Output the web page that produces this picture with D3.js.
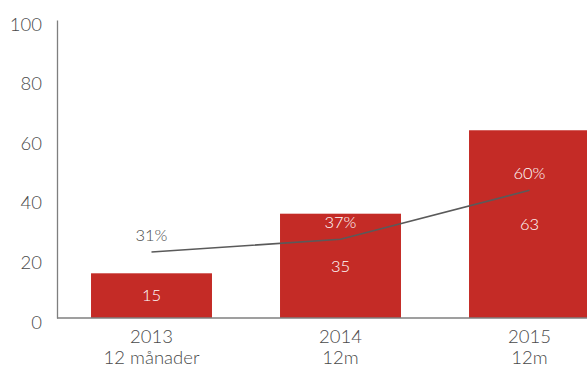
<!DOCTYPE html>
<html>
<head>
<meta charset="utf-8">
<script src="https://cdn.jsdelivr.net/npm/d3@7"></script>
<style>
  html, body { margin: 0; padding: 0; background: #fff; }
  svg { display: block; font-family: Lato, "Open Sans", sans-serif; font-weight: 300; }
</style>
</head>
<body>
<svg id="chart" width="587" height="367"></svg>
<script>
// Yearly volume (bars) and share (line, secondary scale)
const years = ["2013", "2014", "2015"];
const periods = ["12 månader", "12m", "12m"];
const volumes = [15, 35, 63];
const shares = [0.31, 0.37, 0.60];
const yTicks = [0, 20, 40, 60, 80, 100];

const svg = d3.select("#chart");
const plotLeft = 57, plotTop = 20, plotBottom = 318;
const barColor = "#c42b26";
const textGray = "#4a4a4a";

const x = d3.scaleBand().domain(years).range([plotLeft, 624]).paddingInner(0.36).paddingOuter(0.18);
const y = d3.scaleLinear().domain([0, 100]).range([plotBottom, plotTop]);
const y2 = d3.scaleLinear().domain([0, 1.4]).range([plotBottom, plotTop]);

// Bars
svg.append("g").selectAll("rect").data(volumes).join("rect")
  .attr("x", (d, i) => x(years[i]))
  .attr("y", d => y(d))
  .attr("width", x.bandwidth())
  .attr("height", d => y(0) - y(d))
  .attr("fill", barColor);

// Value labels inside bars
svg.append("g").selectAll("text").data(volumes).join("text")
  .attr("x", (d, i) => x(years[i]) + x.bandwidth() / 2)
  .attr("y", d => (y(d) + y(0)) / 2)
  .attr("dy", "0.35em")
  .attr("text-anchor", "middle")
  .attr("fill", "#fff")
  .attr("font-size", 16.5)
  .text(d => d);

// Y axis
const yAxis = svg.append("g")
  .attr("transform", `translate(${plotLeft},0)`)
  .call(d3.axisLeft(y).tickValues(yTicks).tickSize(0).tickPadding(15));
yAxis.select(".domain").attr("stroke", "#7f7f7f").attr("stroke-width", 1.3);
yAxis.selectAll("text")
  .attr("font-size", 18.5).attr("fill", textGray)
  .attr("font-family", "Lato, sans-serif")
  .attr("font-weight", 300)
  .attr("dy", "0.55em");

// Baseline
svg.append("line")
  .attr("x1", plotLeft).attr("x2", 587)
  .attr("y1", y(0)).attr("y2", y(0))
  .attr("stroke", "#7f7f7f").attr("stroke-width", 1.5);

// Category labels (two lines)
const cat = svg.append("g").selectAll("text").data(years).join("text")
  .attr("text-anchor", "middle")
  .attr("fill", textGray)
  .attr("font-size", 18.5);
cat.append("tspan")
  .attr("x", d => x(d) + x.bandwidth() / 2)
  .attr("y", 343)
  .text(d => d);
cat.append("tspan")
  .attr("x", d => x(d) + x.bandwidth() / 2)
  .attr("y", 364)
  .text((d, i) => periods[i]);

// Share line
const line = d3.line()
  .x((d, i) => x(years[i]) + x.bandwidth() / 2)
  .y(d => y2(d));
svg.append("path")
  .datum(shares)
  .attr("d", line)
  .attr("fill", "none")
  .attr("stroke", "#5a5a5a")
  .attr("stroke-width", 1.6);

// Share labels above the line points
svg.append("g").selectAll("text").data(shares).join("text")
  .attr("x", (d, i) => x(years[i]) + x.bandwidth() / 2)
  .attr("y", d => y2(d) - 11)
  .attr("text-anchor", "middle")
  .attr("fill", (d, i) => (y2(d) - 16 > y(volumes[i]) ? "#fff" : textGray))
  .attr("font-size", 16.5)
  .text(d => Math.round(d * 100) + "%");
</script>
</body>
</html>
